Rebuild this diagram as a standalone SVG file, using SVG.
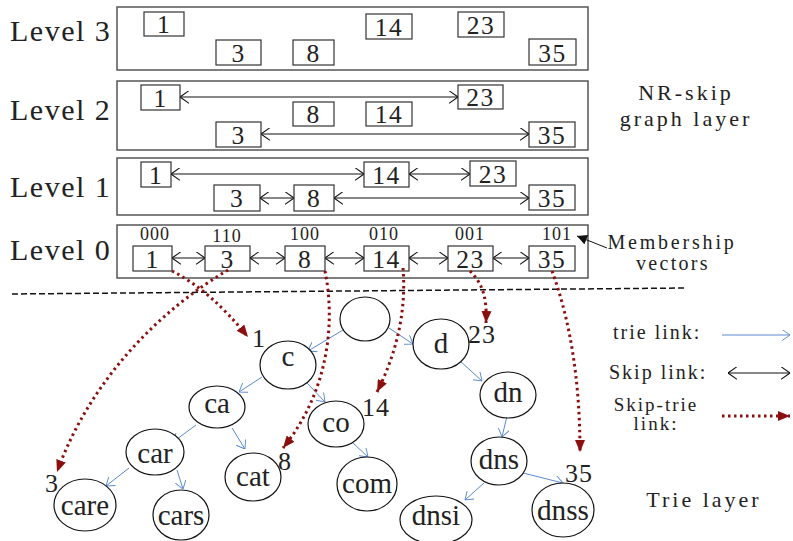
<svg xmlns="http://www.w3.org/2000/svg" width="793" height="541" viewBox="0 0 793 541">
<style>
text{font-family:"Liberation Serif","Times New Roman",serif;fill:#222}
.lvl{font-size:30px;letter-spacing:1.5px}
.lbox{fill:none;stroke:#555;stroke-width:1.5}
.nbox{fill:#fff;stroke:#333;stroke-width:1.2}
.num{font-size:25.5px;letter-spacing:1.5px;text-anchor:middle}
.mv{font-size:18px;letter-spacing:1px;text-anchor:middle}
.skip{stroke:#111;stroke-width:1;fill:none;marker-start:url(#open);marker-end:url(#open)}
.tl{stroke:#5a8ad2;stroke-width:1;fill:none;marker-end:url(#blue)}
.st{stroke:#8b0f0f;stroke-width:3;stroke-dasharray:2.5 3.5;fill:none;marker-end:url(#red)}
.node ellipse{fill:#fff;stroke:#111;stroke-width:1.2}
.tn{font-size:29px;text-anchor:middle}
.tag{font-size:26px;letter-spacing:1px}
.leg{font-size:20px;letter-spacing:2px}
.big{font-size:22px;letter-spacing:3px;text-anchor:middle}
</style>
<defs>
<marker id="open" viewBox="0 0 10 14" refX="10" refY="7" markerWidth="9" markerHeight="13" markerUnits="userSpaceOnUse" orient="auto-start-reverse">
<path d="M0,0 L10,7 L0,14" fill="none" stroke="#111" stroke-width="1.2"/>
</marker>
<marker id="blue" viewBox="0 0 10 14" refX="10" refY="7" markerWidth="8" markerHeight="11" markerUnits="userSpaceOnUse" orient="auto">
<path d="M0,0 L10,7 L0,14" fill="none" stroke="#5a8ad2" stroke-width="1.2"/>
</marker>
<marker id="red" viewBox="0 0 12 10" refX="12" refY="5" markerWidth="12" markerHeight="10" markerUnits="userSpaceOnUse" orient="auto">
<path d="M0,0 L12,5 L0,10 Z" fill="#8b0f0f"/>
</marker>
<marker id="blk" viewBox="0 0 10 10" refX="10" refY="5" markerWidth="10" markerHeight="10" markerUnits="userSpaceOnUse" orient="auto">
<path d="M0,0 L10,5 L0,10 Z" fill="#111"/>
</marker>
</defs>

<!-- Level labels and layer boxes -->
<g id="level3">
<text class="lvl" x="10" y="41">Level 3</text>
<rect class="lbox" x="117" y="7" width="471" height="63"/>
</g>
<g id="level2">
<text class="lvl" x="10" y="120">Level 2</text>
<rect class="lbox" x="117" y="81" width="471" height="69"/>
</g>
<g id="level1">
<text class="lvl" x="10" y="197">Level 1</text>
<rect class="lbox" x="117" y="158" width="471" height="57"/>
</g>
<g id="level0">
<text class="lvl" x="10" y="260">Level 0</text>
<rect class="lbox" x="117" y="225" width="471" height="53"/>
</g>

<!-- Skip graph connectors -->
<g id="skip-links">
<line class="skip" x1="180" y1="97" x2="458" y2="97"/>
<line class="skip" x1="261" y1="134" x2="529" y2="134"/>
<line class="skip" x1="171" y1="174" x2="364" y2="174"/>
<line class="skip" x1="409" y1="174" x2="470" y2="174"/>
<line class="skip" x1="260" y1="198" x2="294" y2="198"/>
<line class="skip" x1="334" y1="198" x2="529" y2="198"/>
<line class="skip" x1="172" y1="258" x2="205" y2="258"/>
<line class="skip" x1="250" y1="258" x2="285" y2="258"/>
<line class="skip" x1="325" y1="258" x2="364" y2="258"/>
<line class="skip" x1="409" y1="258" x2="448" y2="258"/>
<line class="skip" x1="493" y1="258" x2="529" y2="258"/>
</g>

<!-- Level 3 nodes -->
<g id="l3-1"><rect class="nbox" x="144" y="12" width="40" height="24"/><text class="num" x="164" y="33">1</text></g>
<g id="l3-3"><rect class="nbox" x="216" y="40" width="45" height="25"/><text class="num" x="238.5" y="61.5">3</text></g>
<g id="l3-8"><rect class="nbox" x="293" y="40" width="41" height="25"/><text class="num" x="313.5" y="61.5">8</text></g>
<g id="l3-14"><rect class="nbox" x="366" y="14" width="46" height="25"/><text class="num" x="389" y="35.5">14</text></g>
<g id="l3-23"><rect class="nbox" x="458" y="12" width="46" height="25"/><text class="num" x="481" y="33.5">23</text></g>
<g id="l3-35"><rect class="nbox" x="529" y="39" width="47" height="26"/><text class="num" x="552.5" y="61.5">35</text></g>

<!-- Level 2 nodes -->
<g id="l2-1"><rect class="nbox" x="141" y="85" width="39" height="25"/><text class="num" x="160.5" y="106.5">1</text></g>
<g id="l2-23"><rect class="nbox" x="458" y="85" width="45" height="24"/><text class="num" x="480.5" y="106">23</text></g>
<g id="l2-8"><rect class="nbox" x="293" y="102" width="41" height="24"/><text class="num" x="313.5" y="123">8</text></g>
<g id="l2-14"><rect class="nbox" x="366" y="102" width="46" height="24"/><text class="num" x="389" y="123">14</text></g>
<g id="l2-3"><rect class="nbox" x="216" y="122" width="45" height="25"/><text class="num" x="238.5" y="143.5">3</text></g>
<g id="l2-35"><rect class="nbox" x="529" y="122" width="46" height="25"/><text class="num" x="552" y="143.5">35</text></g>

<!-- Level 1 nodes -->
<g id="l1-1"><rect class="nbox" x="141" y="162" width="30" height="25"/><text class="num" x="156" y="183.5">1</text></g>
<g id="l1-14"><rect class="nbox" x="364" y="162" width="45" height="25"/><text class="num" x="386.5" y="183.5">14</text></g>
<g id="l1-23"><rect class="nbox" x="470" y="161" width="46" height="25"/><text class="num" x="493" y="182.5">23</text></g>
<g id="l1-3"><rect class="nbox" x="214" y="185" width="46" height="26"/><text class="num" x="237" y="207">3</text></g>
<g id="l1-8"><rect class="nbox" x="294" y="185" width="40" height="26"/><text class="num" x="314" y="207">8</text></g>
<g id="l1-35"><rect class="nbox" x="529" y="185" width="46" height="25"/><text class="num" x="552" y="206.5">35</text></g>

<!-- Level 0 nodes -->
<g id="l0-1"><rect class="nbox" x="133" y="246" width="39" height="25"/><text class="num" x="152.5" y="267.5">1</text><text class="mv" x="155" y="240">000</text></g>
<g id="l0-3"><rect class="nbox" x="205" y="246" width="45" height="25"/><text class="num" x="227.5" y="267.5">3</text><text class="mv" x="227" y="242">110</text></g>
<g id="l0-8"><rect class="nbox" x="285" y="246" width="40" height="25"/><text class="num" x="305" y="267.5">8</text><text class="mv" x="305" y="240">100</text></g>
<g id="l0-14"><rect class="nbox" x="364" y="246" width="45" height="25"/><text class="num" x="386.5" y="267.5">14</text><text class="mv" x="384" y="240">010</text></g>
<g id="l0-23"><rect class="nbox" x="448" y="246" width="45" height="25"/><text class="num" x="470.5" y="267.5">23</text><text class="mv" x="470" y="240">001</text></g>
<g id="l0-35"><rect class="nbox" x="529" y="246" width="46" height="25"/><text class="num" x="552" y="267.5">35</text><text class="mv" x="557" y="240">101</text></g>

<!-- Annotations -->
<g id="nr-skip-label">
<text class="big" x="686" y="100">NR-skip</text>
<text class="big" x="686" y="126">graph layer</text>
</g>
<g id="membership">
<text style="font-size:20px;letter-spacing:2.8px;text-anchor:middle" x="672" y="249">Membership</text>
<text style="font-size:20px;letter-spacing:2.3px;text-anchor:middle" x="673" y="270">vectors</text>
<line x1="607" y1="248" x2="577" y2="236" stroke="#111" stroke-width="1" marker-end="url(#blk)"/>
</g>

<line id="separator" x1="12" y1="294" x2="687" y2="288" stroke="#111" stroke-width="1.5" stroke-dasharray="6 3"/>

<!-- Trie links -->
<g id="trie-links">
<line class="tl" x1="343" y1="330" x2="308" y2="351"/>
<line class="tl" x1="389" y1="328" x2="413" y2="344"/>
<line class="tl" x1="262" y1="377" x2="239" y2="392"/>
<line class="tl" x1="307" y1="383" x2="325" y2="402"/>
<line class="tl" x1="196" y1="425" x2="173" y2="442"/>
<line class="tl" x1="232" y1="428" x2="245" y2="449"/>
<line class="tl" x1="353" y1="443" x2="368" y2="457"/>
<line class="tl" x1="129" y1="468" x2="106" y2="486"/>
<line class="tl" x1="177" y1="470" x2="183" y2="489"/>
<line class="tl" x1="459" y1="360" x2="482" y2="381"/>
<line class="tl" x1="507" y1="416" x2="502" y2="437"/>
<line class="tl" x1="484" y1="483" x2="465" y2="500"/>
<line class="tl" x1="523" y1="473" x2="563" y2="483"/>
</g>

<!-- Trie nodes -->
<g id="root" class="node"><ellipse cx="365" cy="319" rx="25" ry="22"/></g>
<g id="t-c" class="node"><ellipse cx="288" cy="365" rx="28" ry="24"/><text class="tn" x="288" y="366">c</text></g>
<g id="t-ca" class="node"><ellipse cx="217" cy="407" rx="28" ry="21"/><text class="tn" x="217" y="413">ca</text></g>
<g id="t-co" class="node"><ellipse cx="336" cy="424" rx="28" ry="23"/><text class="tn" x="336" y="432">co</text></g>
<g id="t-car" class="node"><ellipse cx="155" cy="452" rx="29" ry="23"/><text class="tn" x="155" y="463">car</text></g>
<g id="t-cat" class="node"><ellipse cx="253" cy="477" rx="28" ry="24"/><text class="tn" x="253" y="486">cat</text></g>
<g id="t-com" class="node"><ellipse cx="367" cy="484" rx="30" ry="27"/><text class="tn" x="367" y="493">com</text></g>
<g id="t-care" class="node"><ellipse cx="85" cy="505" rx="31" ry="26"/><text class="tn" x="85" y="515">care</text></g>
<g id="t-cars" class="node"><ellipse cx="181" cy="515" rx="28" ry="25"/><text class="tn" x="181" y="525">cars</text></g>
<g id="t-d" class="node"><ellipse cx="441" cy="344" rx="28" ry="25"/><text class="tn" x="441" y="353">d</text></g>
<g id="t-dn" class="node"><ellipse cx="508" cy="395" rx="28" ry="23"/><text class="tn" x="508" y="402">dn</text></g>
<g id="t-dns" class="node"><ellipse cx="499" cy="461" rx="28" ry="24"/><text class="tn" x="499" y="469">dns</text></g>
<g id="t-dnsi" class="node"><ellipse cx="436" cy="520" rx="36" ry="24"/><text class="tn" x="436" y="525">dnsi</text></g>
<g id="t-dnss" class="node"><ellipse cx="563" cy="510" rx="31" ry="27"/><text class="tn" x="563" y="520" textLength="52" lengthAdjust="spacingAndGlyphs">dnss</text></g>

<!-- Node tags -->
<g id="tags">
<text class="tag" x="252" y="347">1</text>
<text class="tag" x="362" y="416">14</text>
<text class="tag" x="278" y="470">8</text>
<text class="tag" x="45" y="492">3</text>
<text class="tag" x="468" y="343">23</text>
<text class="tag" x="565" y="482">35</text>
</g>

<!-- Skip-trie links -->
<g id="skip-trie-links">
<path class="st" d="M172,271 Q210,290 248,337"/>
<path class="st" d="M228,270 C160,310 90,380 57,472"/>
<path class="st" d="M325,271 C335,320 330,390 283,448"/>
<path class="st" d="M403,268 Q408,330 377,392"/>
<path class="st" d="M470,271 C484,285 487,300 486,323"/>
<path class="st" d="M552,271 C570,320 580,380 580,452"/>
</g>

<!-- Legend -->
<g id="legend">
<text class="leg" x="613" y="339">trie link:</text>
<line class="tl" x1="722" y1="335" x2="790" y2="335"/>
<text class="leg" x="609" y="379">Skip link:</text>
<line class="skip" x1="728" y1="373" x2="790" y2="373"/>
<text class="leg" x="656" y="411" style="text-anchor:middle;font-size:19px">Skip-trie</text>
<text class="leg" x="656" y="430" style="text-anchor:middle;font-size:19px">link:</text>
<line class="st" x1="722" y1="416" x2="790" y2="416"/>
</g>
<text id="trie-layer" class="big" x="704" y="507">Trie layer</text>
</svg>
